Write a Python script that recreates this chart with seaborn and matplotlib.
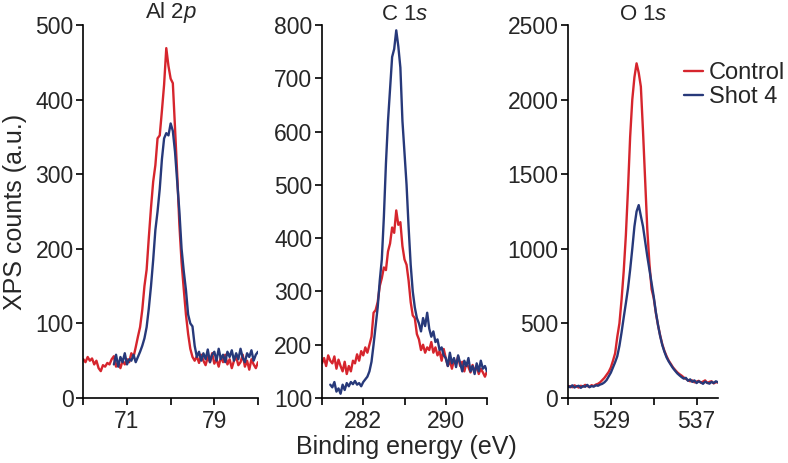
import numpy as np
import pandas as pd
import matplotlib
matplotlib.use("Agg")
import matplotlib.pyplot as plt
import seaborn as sns

# ---------------- data ----------------
series_names = ["Control", "Shot 4"]
panel_titles = [r"Al 2$\mathit{p}$", r"C 1$\mathit{s}$", r"O 1$\mathit{s}$"]

# Al 2p
al_control_start, al_shot_start, al_step = 67.0, 69.8, 0.2
al_control = [52, 48, 55, 50, 53, 45, 50, 40, 36, 44,
              42, 47, 45, 52, 56, 42, 48, 40, 50, 45,
              52, 48, 60, 55, 68, 82, 95, 118, 150, 172,
              215, 255, 290, 312, 348, 352, 385, 420, 469, 445,
              428, 422, 362, 300, 232, 182, 146, 112, 86, 66,
              55, 50, 56, 47, 58, 50, 44, 55, 48, 60,
              46, 52, 42, 55, 48, 58, 45, 52, 40, 50,
              55, 44, 48, 58, 42, 50, 38, 52, 45, 40,
              48]
al_shot = [45, 58, 42, 55, 48, 60, 45, 52, 50, 58,
           48, 55, 62, 70, 80, 95, 120, 150, 185, 225,
           250, 280, 320, 348, 355, 352, 368, 358, 330, 290,
           250, 200, 170, 145, 112, 100, 96, 70, 55, 62,
           50, 60, 52, 65, 48, 58, 62, 50, 66, 52,
           58, 48, 62, 55, 64, 50, 60, 52, 66, 54,
           48, 60, 55, 64, 50, 58, 62]

# C 1s
c_control_start, c_shot_start, c_step = 278.0, 278.8, 0.2
c_control = [165, 175, 160, 180, 170, 165, 178, 155, 172, 160,
             150, 168, 145, 160, 150, 170, 165, 182, 170, 188,
             180, 195, 185, 200, 215, 260, 265, 280, 310, 325,
             345, 340, 375, 390, 420, 410, 452, 425, 430, 385,
             360, 350, 320, 280, 255, 250, 220, 210, 190, 200,
             185, 195, 190, 205, 185, 195, 180, 188, 170, 192,
             175, 160, 170, 155, 172, 165, 178, 160, 168, 150,
             165, 158, 148, 162, 150, 160, 145, 155, 148, 140,
             150]
c_shot = [125, 120, 130, 112, 118, 108, 125, 115, 128, 122,
          130, 126, 132, 125, 128, 122, 130, 135, 140, 150,
          168, 200, 235, 270, 320, 360, 440, 540, 620, 680,
          740, 755, 790, 760, 720, 620, 560, 500, 420, 350,
          300, 270, 250, 240, 225, 250, 235, 260, 230, 215,
          225, 205, 210, 190, 195, 180, 175, 160, 185, 165,
          175, 158, 180, 165, 150, 170, 160, 175, 150, 160,
          145, 165, 150, 170, 155, 160, 150]

# O 1s
o_control_start, o_shot_start, o_step = 525.0, 525.0, 0.2
o_control = [75, 80, 72, 85, 78, 70, 82, 76, 88, 80,
             74, 86, 80, 90, 95, 105, 120, 135, 155, 175,
             205, 250, 300, 410, 500, 660, 850, 1090, 1400, 1750,
             2000, 2150, 2243, 2180, 2087, 1790, 1460, 1130, 900, 730,
             670, 570, 488, 420, 360, 315, 280, 250, 228, 205,
             188, 172, 160, 150, 138, 128, 120, 112, 118, 105,
             110, 115, 102, 110, 118, 100, 108, 112, 98, 106,
             104]
o_shot = [80, 72, 85, 70, 78, 82, 68, 80, 75, 88,
          72, 80, 76, 85, 82, 90, 95, 105, 120, 145,
          170, 205, 240, 280, 350, 440, 540, 635, 735, 860,
          1000, 1150, 1250, 1293, 1220, 1150, 1050, 950, 860, 770,
          680, 575, 490, 415, 355, 310, 272, 245, 222, 200,
          182, 165, 152, 140, 130, 135, 115, 125, 108, 118,
          100, 112, 105, 95, 110, 102, 96, 108, 100, 112,
          105]

# axis ranges / ticks
x_limits = [(67, 83), (278, 294), (525, 539)]
x_ticks = [[67, 71, 75, 79, 83], [278, 282, 286, 290, 294], [525, 529, 533, 537]]
x_ticklabels = [["", "71", "", "79", ""], ["", "282", "", "290", ""], ["", "529", "", "537"]]
y_limits = [(0, 500), (100, 800), (0, 2500)]
y_ticks = [list(range(0, 501, 100)), list(range(100, 801, 100)), list(range(0, 2501, 500))]


def build_frame(ctrl, ctrl_start, shot, shot_start, step):
    rows = []
    for name, vals, start in ((series_names[0], ctrl, ctrl_start), (series_names[1], shot, shot_start)):
        e = np.round(start + step * np.arange(len(vals)), 2)
        rows.append(pd.DataFrame({"energy": e, "counts": vals, "sample": name}))
    return pd.concat(rows, ignore_index=True)


frames = [
    build_frame(al_control, al_control_start, al_shot, al_shot_start, al_step),
    build_frame(c_control, c_control_start, c_shot, c_shot_start, c_step),
    build_frame(o_control, o_control_start, o_shot, o_shot_start, o_step),
]

# ---------------- style ----------------
sns.set_style("ticks")
plt.rcParams["font.family"] = ["Liberation Sans", "DejaVu Sans"]
plt.rcParams["mathtext.fontset"] = "custom"
plt.rcParams["mathtext.rm"] = "Liberation Sans"
plt.rcParams["mathtext.it"] = "Liberation Sans:italic"

palette = {"Control": "#d6252d", "Shot 4": "#27397a"}

W, H = 788, 463
fig = plt.figure(figsize=(W / 100, H / 100), dpi=100)

boxes = [(83.3, 258.0), (322.0, 487.0), (568.0, 718.0)]
top_px, bot_px = 25.0, 398.0
axes = []
for (l, r) in boxes:
    ax = fig.add_axes([l / W, 1 - bot_px / H, (r - l) / W, (bot_px - top_px) / H])
    axes.append(ax)

for i, ax in enumerate(axes):
    sns.lineplot(data=frames[i], x="energy", y="counts", hue="sample",
                 hue_order=series_names, palette=palette, estimator=None,
                 linewidth=1.7, ax=ax, legend=(i == 2))
    ax.set_xlim(*x_limits[i])
    ax.set_ylim(*y_limits[i])
    ax.set_xticks(x_ticks[i])
    ax.set_xticklabels(x_ticklabels[i])
    ax.set_yticks(y_ticks[i])
    ax.set_xlabel("")
    ax.set_ylabel("")
    ax.set_title(panel_titles[i], fontsize=16, pad=2)
    for s in ("top", "right"):
        ax.spines[s].set_visible(False)
    for s in ("left", "bottom"):
        ax.spines[s].set_linewidth(1.2)
        ax.spines[s].set_color("black")
    ax.tick_params(axis="both", labelsize=16.5, length=5, width=1.2, color="black")
    ax.tick_params(axis="y", pad=2)
    ax.tick_params(axis="x", pad=4)

axes[0].set_ylabel("XPS counts (a.u.)", fontsize=18, labelpad=6)
fig.text(406 / W, 1 - 447 / H, "Binding energy (eV)", fontsize=18,
         ha="center", va="center")

handles, labels = axes[2].get_legend_handles_labels()
axes[2].legend(handles, labels, loc="upper left",
               bbox_to_anchor=(684 / W, 1 - 62 / H), bbox_transform=fig.transFigure,
               frameon=False, fontsize=17, handlelength=0.8, handletextpad=0.25,
               labelspacing=0.1, borderpad=0, borderaxespad=0)

fig.savefig("out.png", dpi=100)
